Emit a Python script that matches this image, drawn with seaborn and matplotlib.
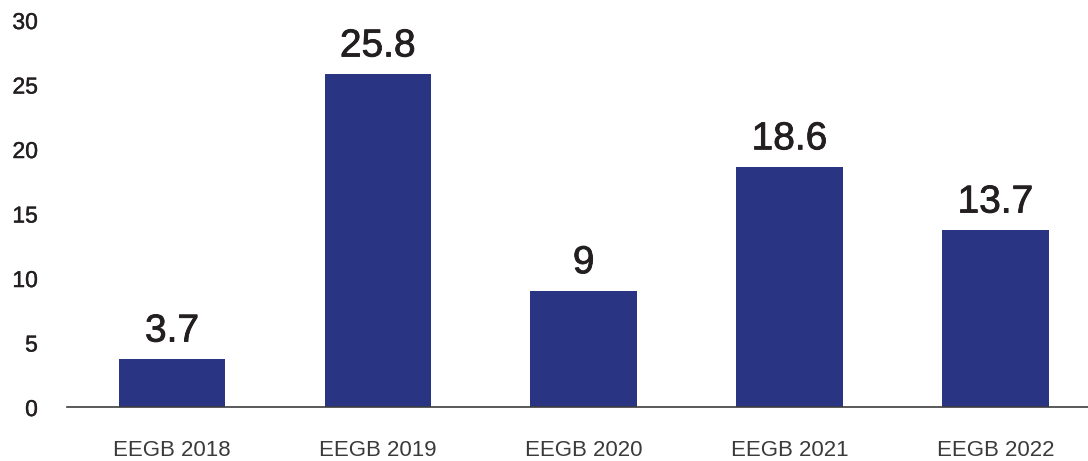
import matplotlib
matplotlib.use("Agg")
import matplotlib.pyplot as plt
import matplotlib.patheffects as pe
import seaborn as sns
import pandas as pd

categories = ["EEGB 2018", "EEGB 2019", "EEGB 2020", "EEGB 2021", "EEGB 2022"]
values = [3.7, 25.8, 9, 18.6, 13.7]
value_labels = ["3.7", "25.8", "9", "18.6", "13.7"]
y_ticks = [0, 5, 10, 15, 20, 25, 30]

sns.set_theme(style="white")
plt.rcParams["font.family"] = ["Liberation Sans", "DejaVu Sans"]

df = pd.DataFrame({"edition": categories, "value": values})

fig = plt.figure(figsize=(10.88, 4.61), dpi=100)
ax = fig.add_axes([0.0616, 0.1171, 0.9384, 0.8395])

sns.barplot(data=df, x="edition", y="value", color="#293583", saturation=1,
            width=0.517, linewidth=0, ax=ax)

# slightly heavier value labels
heavy = [pe.withStroke(linewidth=0.6, foreground="#231f20")]
for patch, lab in zip(ax.patches, value_labels):
    ax.annotate(lab, (patch.get_x() + patch.get_width() / 2, patch.get_height()),
                xytext=(0, 7), textcoords="offset points", ha="center", va="bottom",
                fontsize=28, color="#231f20", clip_on=False, path_effects=heavy)

ax.set_xlim(-0.51, 4.45)
ax.set_ylim(0, 30)
ax.set_yticks(y_ticks)
ax.set_xlabel("")
ax.set_ylabel("")
for s in ["top", "right", "left"]:
    ax.spines[s].set_visible(False)
ax.spines["bottom"].set_color("#3d3d3d")
ax.spines["bottom"].set_linewidth(1.2)
ax.tick_params(axis="y", length=0, pad=21, labelsize=16.5, labelcolor="#231f20")
ax.tick_params(axis="x", length=0, pad=24, labelsize=16, labelcolor="#3a3a3a")
for t in ax.get_yticklabels():
    t.set_path_effects([pe.withStroke(linewidth=0.3, foreground="#231f20")])
ax.grid(False)

fig.savefig("out.png", dpi=100)
